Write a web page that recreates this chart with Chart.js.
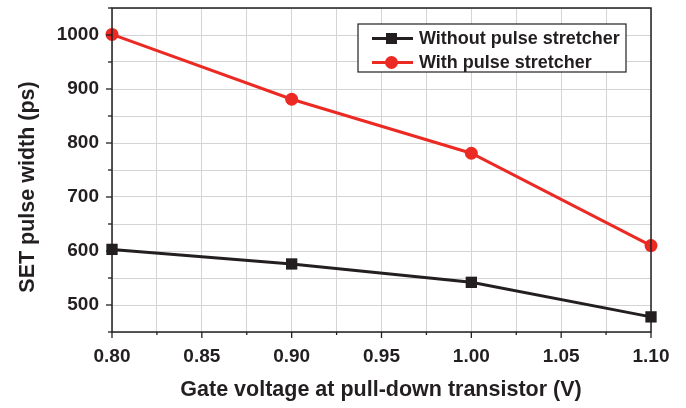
<!DOCTYPE html>
<html>
<head>
<meta charset="utf-8">
<script src="https://cdn.jsdelivr.net/npm/chart.js@4/dist/chart.umd.min.js"></script>
<style>
    html, body { margin: 0; padding: 0; background: #fff; }
    #wrap { width: 686px; height: 408px; }
</style>
</head>
<body>
<div id="wrap"><canvas id="pulseChart"></canvas></div>
<script>
// Data
const gateVoltages = [0.80, 0.90, 1.00, 1.10];
const withoutStretcher = [603, 576, 542, 478];
const withStretcher = [1001, 881, 781, 610];
const seriesLabels = ['Without pulse stretcher', 'With pulse stretcher'];
const xTitle = 'Gate voltage at pull-down transistor (V)';
const yTitle = 'SET pulse width (ps)';

const BLACK = '#231f20';
const RED = '#ec2a24';
const GRID = '#d4d4d4';
const FONT = '"Liberation Sans", Arial, sans-serif';

// frame, tick marks, axis titles and legend
const framePlugin = {
    id: 'frame',
    afterDraw(chart) {
        const { ctx, chartArea: a, scales } = chart;
        ctx.save();
        ctx.strokeStyle = BLACK;
        ctx.lineWidth = 1.5;
        ctx.strokeRect(a.left, a.top, a.right - a.left, a.bottom - a.top);

        // outward tick marks
        ctx.lineWidth = 1.3;
        scales.x.ticks.forEach(t => {
            const x = scales.x.getPixelForValue(t.value);
            const len = t.label ? 6 : 3;
            ctx.beginPath();
            ctx.moveTo(x, a.bottom);
            ctx.lineTo(x, a.bottom + len);
            ctx.stroke();
        });
        scales.y.ticks.forEach(t => {
            const y = scales.y.getPixelForValue(t.value);
            const len = t.label ? 6 : 4;
            ctx.beginPath();
            ctx.moveTo(a.left, y);
            ctx.lineTo(a.left - len, y);
            ctx.stroke();
        });

        // axis titles
        ctx.fillStyle = BLACK;
        ctx.font = 'bold 21.5px ' + FONT;
        ctx.textAlign = 'center';
        ctx.textBaseline = 'middle';
        ctx.fillText(xTitle, 381, 390);
        ctx.translate(28, 187);
        ctx.rotate(-Math.PI / 2);
        ctx.fillText(yTitle, 0, 0);
        ctx.restore();

        // legend
        ctx.save();
        const box = { x: 358, y: 24, w: 268, h: 48 };
        ctx.fillStyle = '#fff';
        ctx.fillRect(box.x, box.y, box.w, box.h);
        ctx.strokeStyle = BLACK;
        ctx.lineWidth = 1.2;
        ctx.strokeRect(box.x, box.y, box.w, box.h);
        ctx.font = 'bold 18px ' + FONT;
        ctx.textAlign = 'left';
        ctx.textBaseline = 'middle';
        chart.data.datasets.forEach((ds, i) => {
            const y = 38.5 + i * 24;
            ctx.strokeStyle = ds.borderColor;
            ctx.lineWidth = 3;
            ctx.beginPath();
            ctx.moveTo(372, y);
            ctx.lineTo(413, y);
            ctx.stroke();
            ctx.fillStyle = ds.borderColor;
            if (ds.pointStyle === 'rect') {
                ctx.fillRect(386, y - 5.5, 11, 11);
            } else {
                ctx.beginPath();
                ctx.arc(391.5, y, 6.5, 0, Math.PI * 2);
                ctx.fill();
            }
            ctx.fillStyle = BLACK;
            ctx.fillText(ds.label, 419, y + 1);
        });
        ctx.restore();
    }
};

function initPulseChart() {
    const ctx = document.getElementById('pulseChart').getContext('2d');
    return new Chart(ctx, {
        type: 'line',
        data: {
            datasets: [{
                label: seriesLabels[0],
                data: gateVoltages.map((v, i) => ({ x: v, y: withoutStretcher[i] })),
                borderColor: BLACK,
                backgroundColor: BLACK,
                borderWidth: 3,
                pointStyle: 'rect',
                pointRadius: 8,
                pointBorderWidth: 0,
                clip: false
            }, {
                label: seriesLabels[1],
                data: gateVoltages.map((v, i) => ({ x: v, y: withStretcher[i] })),
                borderColor: RED,
                backgroundColor: RED,
                borderWidth: 3,
                pointStyle: 'circle',
                pointRadius: 6.5,
                pointBorderWidth: 0,
                clip: false
            }]
        },
        options: {
            responsive: true,
            maintainAspectRatio: false,
            animation: false,
            layout: {
                padding: { top: 8, right: 35, left: 0, bottom: 0 }
            },
            plugins: {
                legend: { display: false },
                tooltip: { enabled: false }
            },
            scales: {
                x: {
                    type: 'linear',
                    min: 0.8,
                    max: 1.1,
                    afterFit: s => {
                        s.height = 76;
                        s.paddingLeft = 0;
                        s.paddingRight = 0;
                    },
                    afterBuildTicks: s => {
                        s.ticks = [];
                        for (let i = 0; i <= 12; i++) s.ticks.push({ value: 0.8 + i * 0.025 });
                    },
                    grid: { color: GRID, lineWidth: 1, drawTicks: false },
                    border: { display: false },
                    ticks: {
                        padding: 13,
                        color: BLACK,
                        font: { family: FONT, size: 19, weight: 'bold' },
                        callback: (v, i) => i % 2 === 0 ? v.toFixed(2) : ''
                    }
                },
                y: {
                    min: 450,
                    max: 1050,
                    afterFit: s => {
                        s.width = 112;
                        s.paddingTop = 0;
                        s.paddingBottom = 0;
                    },
                    grid: { color: GRID, lineWidth: 1, drawTicks: false },
                    border: { display: false },
                    ticks: {
                        stepSize: 50,
                        padding: 13,
                        color: BLACK,
                        font: { family: FONT, size: 19, weight: 'bold' },
                        callback: v => v % 100 === 0 ? String(v) : ''
                    }
                }
            }
        },
        plugins: [framePlugin]
    });
}

initPulseChart();
</script>
</body>
</html>
